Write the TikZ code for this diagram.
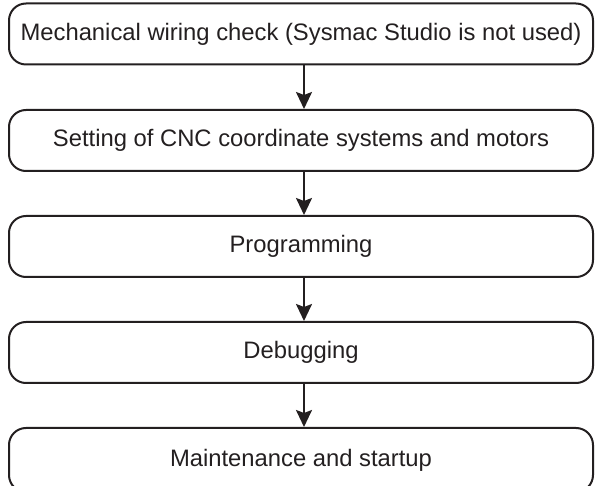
\documentclass[tikz,border=0pt]{standalone}
\usepackage{fontspec}
\setmainfont{Liberation Sans}
\usetikzlibrary{arrows.meta}
\definecolor{ink}{HTML}{231F20}
\begin{document}
\begin{tikzpicture}[x=1pt,y=-1pt,
  stepbox/.style={draw=ink, line width=2pt, rounded corners=17pt,
    minimum width=584pt, minimum height=61pt, inner sep=0pt,
    font=\fontsize{23.8}{28}\selectfont, text=ink},
  flow/.style={draw=ink, line width=2pt,
    -{Stealth[length=17pt,width=16pt,inset=3pt]}}]
\useasboundingbox (0,0) rectangle (595,486);
\node[stepbox] (s1) at (301,34)    {Mechanical wiring check (Sysmac Studio is not used)};
\node[stepbox] (s2) at (301,140.5) {Setting of CNC coordinate systems and motors};
\node[stepbox] (s3) at (301,246.5) {Programming};
\node[stepbox] (s4) at (301,352.5) {Debugging};
% the last step runs past the lower edge of the page
\node[stepbox, minimum height=64pt] (s5) at (301,460) {\raisebox{2pt}{Maintenance and startup}};
\coordinate (ax) at (304,0);
\draw[flow] (s1.south -| ax) -- (s2.north -| ax);
\draw[flow] (s2.south -| ax) -- (s3.north -| ax);
\draw[flow] (s3.south -| ax) -- (s4.north -| ax);
\draw[flow] (s4.south -| ax) -- (s5.north -| ax);
\end{tikzpicture}
\end{document}
